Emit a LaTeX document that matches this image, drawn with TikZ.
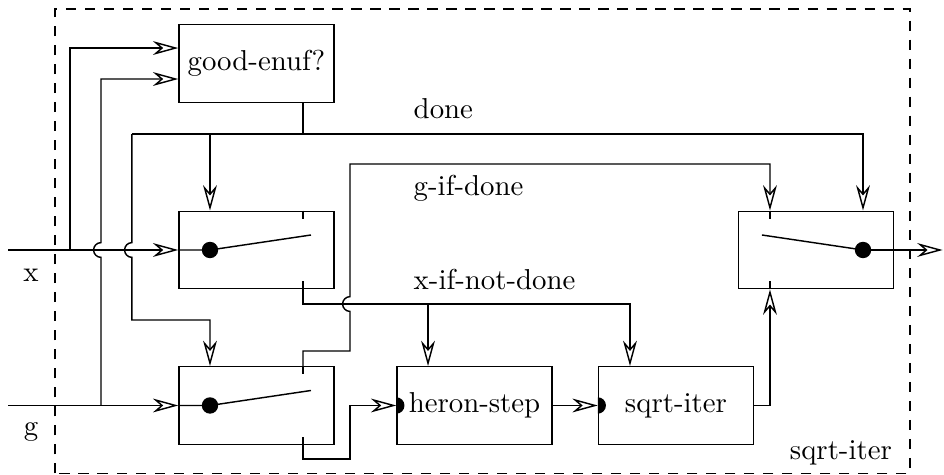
\documentclass[tikz,border=0pt]{standalone}
\usetikzlibrary{arrows.meta}

\begin{document}
\begin{tikzpicture}[x=1cm,y=1cm,line width=0.5pt,
  blk/.style={draw,minimum width=1.891cm,minimum height=0.946cm,inner sep=0pt},
  lbl/.style={inner sep=0pt},
  arr/.style={-{Stealth[open,length=8.8pt,width=4.8pt,inset=2.8pt]}}]
\useasboundingbox (0,0) rectangle (11.517,5.795);
\draw[dash pattern=on 3.6pt off 3pt] (0.671,0.020) rectangle (11.102,5.685);
\node[blk] (good) at (3.129,5.020) {good-enuf?};
\node[blk] (swx) at (3.129,2.745) {};
\node[blk] (swg) at (3.129,0.848) {};
\node[blk] (heron) at (5.789,0.848) {heron-step};
\node[blk] (iter) at (8.247,0.848) {sqrt-iter};
\node[blk] (swout) at (9.955,2.745) {};
\foreach \s in {swx,swg} {
  \coordinate (\s-d) at ([xshift=-0.567cm]\s.center);
  \coordinate (\s-t) at ([xshift=0.568cm]\s.north);
  \coordinate (\s-b) at ([xshift=0.568cm]\s.south);
  \fill (\s-d) circle (0.1);
  \draw (\s.west) -- (\s-d) -- ([xshift=0.665cm,yshift=0.183cm]\s.center);
  \draw (\s-t) -- ++(0,-0.098);
  \draw (\s-b) -- ++(0,0.098);
}
\coordinate (swout-d) at ([xshift=0.574cm]swout.center);
\coordinate (swout-t) at ([xshift=-0.561cm]swout.north);
\coordinate (swout-b) at ([xshift=-0.561cm]swout.south);
\fill (swout-d) circle (0.1);
\draw (swout-d) -- ([xshift=-0.659cm,yshift=0.183cm]swout.center);
\draw (swout-t) -- ++(0,-0.098);
\draw (swout-b) -- ++(0,0.098);
\foreach \b in {heron,iter}
  \fill ([yshift=-0.1cm]\b.west) arc[start angle=-90,end angle=90,radius=0.1] -- cycle;
\coordinate (xin) at (0.098,2.745);
\coordinate (gin) at (0.098,0.848);
\coordinate (xsplit) at (0.854,2.745);
\coordinate (gsplit) at (1.232,0.848);
\coordinate (donebus) at (1.610,4.160);
\coordinate (xbus) at (3.697,2.086);
\coordinate (heron-t) at ([xshift=-0.567cm]heron.north);
\coordinate (iter-t) at ([xshift=-0.561cm]iter.north);
\coordinate (out) at (11.500,2.745);
\draw[arr] (xin) -- (swx.west);
\draw[arr] (gin) -- (swg.west);
\draw[arr] (xsplit) |- ([yshift=0.189cm]good.west);
\draw[arr] (gsplit) -- ++(0,1.807) arc[start angle=-90,end angle=-270,radius=0.09] |- ([yshift=-0.189cm]good.west);
\draw (good.south -| swx-t) -- (donebus -| swx-t);
\draw[arr] (donebus) -| (swout.north -| swout-d);
\draw[arr] (donebus -| swx-d) -- (swx.north -| swx-d);
\draw[arr] (donebus) -- (1.610,2.835) arc[start angle=90,end angle=270,radius=0.09] -- (1.610,1.891) -| (swg.north -| swg-d);
\draw[arr] (swg-t) |- (4.270,1.513) -- (4.270,1.996) arc[start angle=-90,end angle=-270,radius=0.09] -- (4.270,3.794) -| (swout-t);
\draw[arr] (swx-b) |- (xbus) -| (iter-t);
\draw[arr] (heron-t |- xbus) -- (heron-t);
\draw[arr] (swg-b) |- (4.270,0.195) |- (heron.west);
\draw[arr] (heron.east) -- (iter.west);
\draw[arr] (iter.east) -| (swout-b);
\draw[arr] (swout-d) -- (out);
\node[lbl,anchor=base west] (ldone) at (5.039,4.355) {done};
\node[lbl,anchor=base west] (lgdone) at (5.039,3.404) {g-if-done};
\node[lbl,anchor=base west] (lxnd) at (5.039,2.269) {x-if-not-done};
\node[lbl,anchor=base east] (lname) at (10.890,0.195) {sqrt-iter};
\node[lbl] (lx) at (0.378,2.440) {x};
\node[lbl] (lg) at (0.378,0.525) {g};
\end{tikzpicture}
\end{document}
